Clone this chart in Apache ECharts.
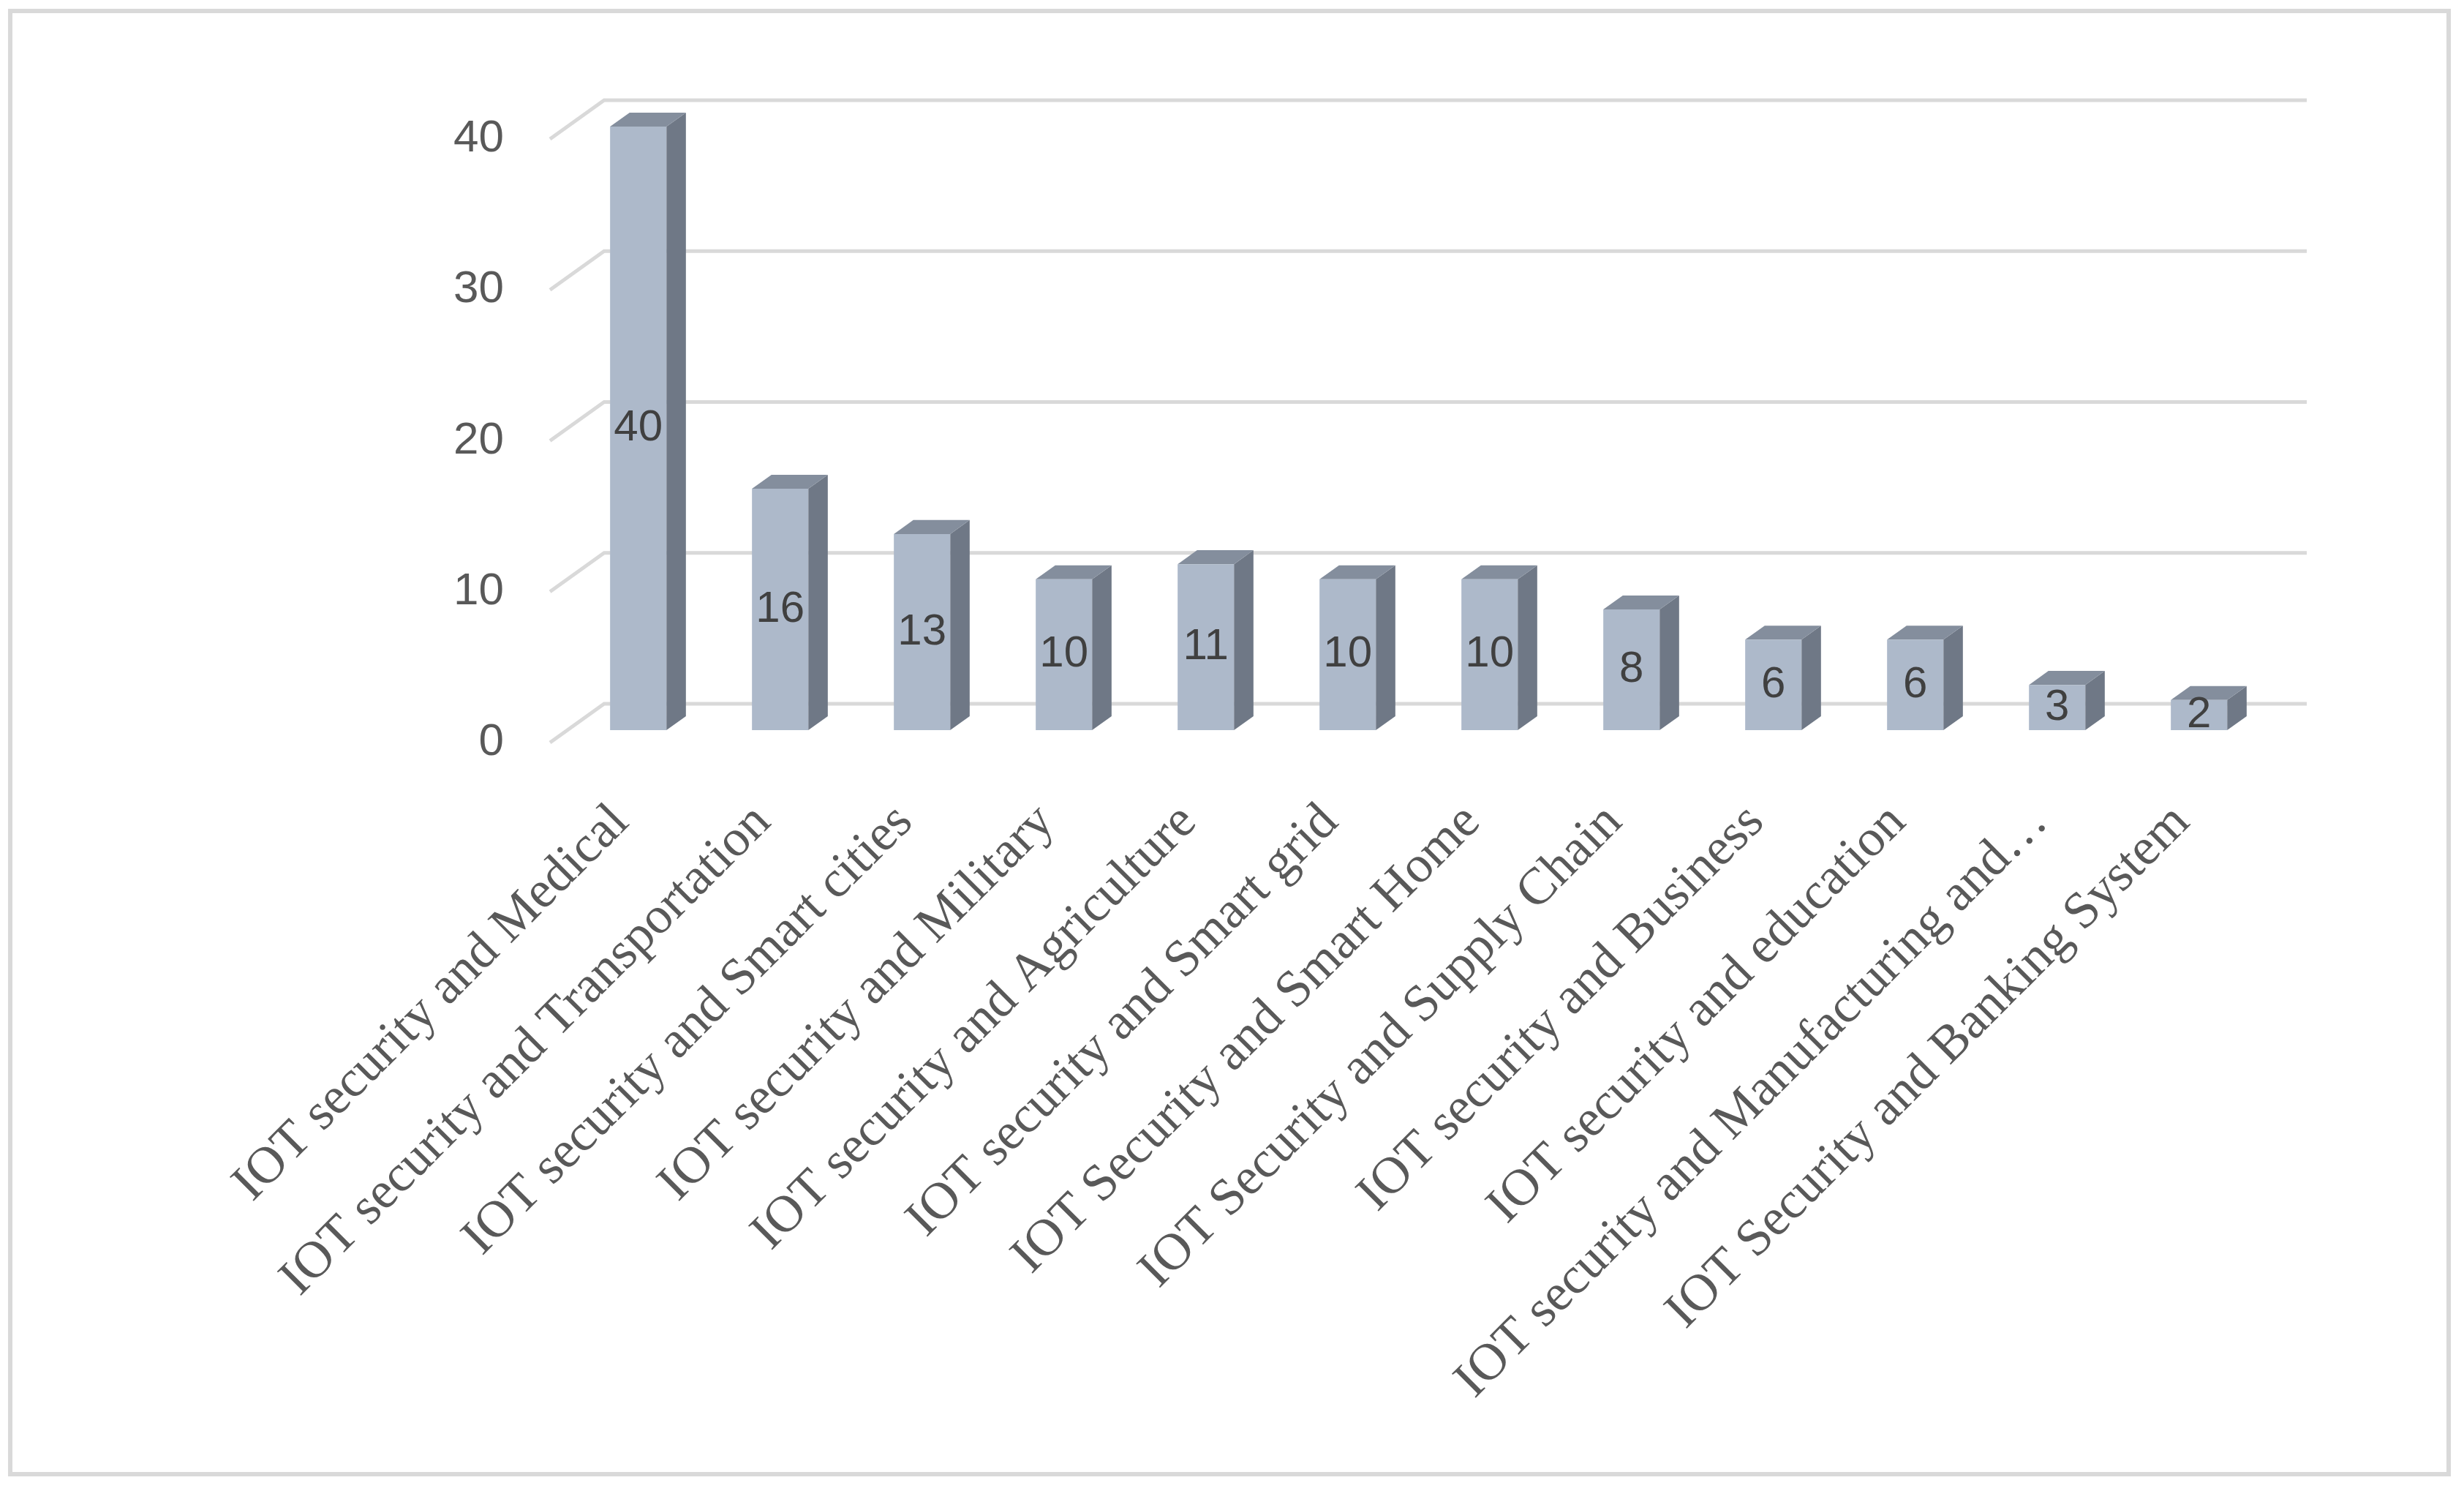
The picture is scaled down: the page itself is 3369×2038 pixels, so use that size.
<!DOCTYPE html>
<html>
<head>
<meta charset="utf-8">
<title>IOT security topics</title>
<script src="https://cdn.jsdelivr.net/npm/echarts@6/dist/echarts.min.js"></script>
<style>
    html, body { margin: 0; padding: 0; background: #fff; }
    #barChart { width: 3369px; height: 2038px; }
</style>
</head>
<body>
<div id="barChart"></div>
<script>
    const categories = [
        'IOT security and Medical',
        'IOT security and Transportation',
        'IOT security and Smart cities',
        'IOT security and Military',
        'IOT security and Agriculture',
        'IOT security and Smart grid',
        'IOT Security and Smart Home',
        'IOT Security and Supply Chain',
        'IOT security and Business',
        'IOT security and education',
        'IOT security and Manufacturing and\u2026',
        'IOT Security and Banking System'
    ];
    const counts = [40, 16, 13, 10, 11, 10, 10, 8, 6, 6, 3, 2];
    const yTicks = [0, 10, 20, 30, 40];

    // fake 3d: floor depth vector, bars sit between 32% and 68% of it
    const depth = [74, -53];
    const barFront = 0.32;
    const barBack = 0.68;
    const barWidth = 0.397;

    const faceColor = '#ADB9CA';
    const sideColor = '#6F7886';
    const topColor = '#848E9D';

    const renderBar = (params, api) => {
        const idx = api.value(0);
        const val = api.value(1);
        const base = api.coord([idx, 0]);
        const top = api.coord([idx, val]);
        const w = api.size([1, 0])[0] * barWidth;
        const fx = depth[0] * barFront, fy = depth[1] * barFront;
        const dx = depth[0] * (barBack - barFront), dy = depth[1] * (barBack - barFront);
        const x1 = top[0] - w / 2 + fx, x2 = x1 + w;
        const yt = top[1] + fy, yb = base[1] + fy;
        return {
            type: 'group',
            children: [{
                type: 'polygon',
                shape: { points: [[x2, yt], [x2 + dx, yt + dy], [x2 + dx, yb + dy], [x2, yb]] },
                style: { fill: sideColor }
            }, {
                type: 'polygon',
                shape: { points: [[x1, yt], [x1 + dx, yt + dy], [x2 + dx, yt + dy], [x2, yt]] },
                style: { fill: topColor }
            }, {
                type: 'rect',
                shape: { x: x1, y: yt, width: w, height: yb - yt },
                style: { fill: faceColor }
            }, {
                type: 'text',
                x: (x1 + x2) / 2,
                y: (yt + yb) / 2,
                style: {
                    text: String(val),
                    fill: '#404040',
                    font: '60px "Liberation Sans", Arial, sans-serif',
                    align: 'center',
                    verticalAlign: 'middle'
                }
            }]
        };
    };

    const renderGrid = (params, api) => {
        const cs = params.coordSys;
        const y = api.coord([0, api.value(0)])[1];
        return {
            type: 'polyline',
            shape: {
                points: [
                    [cs.x, y],
                    [cs.x + depth[0], y + depth[1]],
                    [cs.x + cs.width + depth[0], y + depth[1]]
                ]
            },
            style: { stroke: '#D9D9D9', lineWidth: 5, fill: null }
        };
    };

    const myChart = echarts.init(document.getElementById('barChart'));
    myChart.setOption({
        animation: false,
        graphic: [{
            type: 'rect',
            shape: { x: 14, y: 15, width: 3334, height: 2000 },
            style: { fill: null, stroke: '#D9D9D9', lineWidth: 6 },
            z: 100
        }],
        grid: {
            left: 752,
            top: 190,
            width: 2328,
            height: 825
        },
        xAxis: {
            type: 'category',
            data: categories,
            axisLine: { show: false },
            axisTick: { show: false },
            splitLine: { show: false },
            axisLabel: {
                interval: 0,
                rotate: 45,
                margin: 98,
                color: '#595959',
                fontSize: 71,
                fontFamily: '"Liberation Serif", "Times New Roman", serif'
            }
        },
        yAxis: {
            type: 'value',
            min: 0,
            max: 40,
            interval: 10,
            axisLine: { show: false },
            axisTick: { show: false },
            splitLine: { show: false },
            axisLabel: {
                margin: 63,
                color: '#595959',
                fontSize: 62,
                fontFamily: '"Liberation Sans", Arial, sans-serif'
            }
        },
        series: [{
            type: 'custom',
            renderItem: renderGrid,
            data: yTicks.map(v => [v]),
            encode: { y: 0 },
            silent: true,
            z: 1
        }, {
            type: 'custom',
            renderItem: renderBar,
            data: counts.map((v, i) => [i, v]),
            encode: { x: 0, y: 1 },
            z: 2
        }]
    });
</script>
</body>
</html>
